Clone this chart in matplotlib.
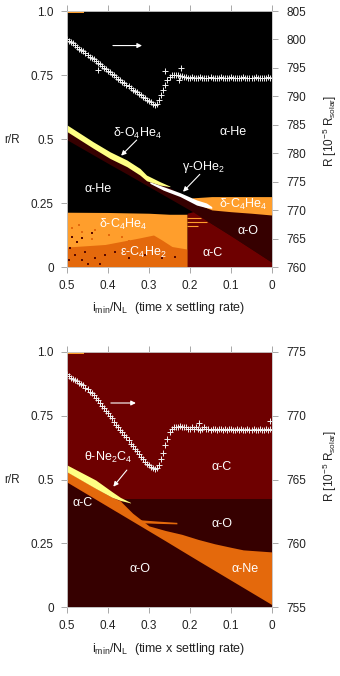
import numpy as np
import matplotlib.pyplot as plt

plt.rcParams['font.family'] = ['Liberation Sans', 'DejaVu Sans']
plt.rcParams['mathtext.default'] = 'regular'

# phase colours
C_HE = '#000000'   # alpha-He
C_O = '#360000'    # alpha-O
C_C = '#6e0000'    # alpha-C
C_D = '#ff9e2c'    # delta-C4He4
C_E = '#e4690c'    # eps-C4He2 / alpha-Ne
C_Y = '#ffff84'    # delta-O4He4 / theta-Ne2C4
C_W = '#ffffff'    # gamma-OHe2

# ---------------- panel 1 boundaries (x = i_min/N_L, r = r/R) ----------------
grid1 = [0.5, 0.45, 0.40, 0.35, 0.30, 0.25, 0.20, 0.15, 0.10, 0.05, 0.0]
low_edge1 = [0.497, 0.451, 0.405, 0.36, 0.314, 0.268, 0.222, 0.172, 0.122, 0.07, 0.018]
ao_top1 = [0.54, 0.49, 0.44, 0.40, 0.34, 0.31, 0.265, 0.24, 0.225, 0.22, 0.215]

yel_x1 = [0.5, 0.436, 0.395, 0.354, 0.322, 0.306, 0.273, 0.249]
yel_top1 = [0.555, 0.489, 0.45, 0.418, 0.385, 0.359, 0.333, 0.316]
yel_bot1 = [0.529, 0.464, 0.424, 0.392, 0.359, 0.337, 0.32, 0.314]

wht_x1 = [0.298, 0.265, 0.224, 0.184, 0.16, 0.147]
wht_top1 = [0.333, 0.314, 0.29, 0.262, 0.25, 0.236]
wht_bot1 = [0.327, 0.30, 0.275, 0.242, 0.232, 0.229]

dup_x1 = [0.195, 0.147, 0.10, 0.05, 0.0]
dup_top1 = [0.27, 0.275, 0.275, 0.275, 0.275]
dup_bot1 = [0.255, 0.223, 0.216, 0.21, 0.203]

dlo_x1 = [0.5, 0.40, 0.30, 0.25, 0.207]
dlo_top1 = [0.214, 0.213, 0.21, 0.206, 0.206]

eps_x1 = [0.5, 0.407, 0.325, 0.289, 0.268, 0.244, 0.207]
eps_top1 = [0.078, 0.088, 0.113, 0.125, 0.105, 0.08, 0.07]

ac_x1 = [0.207, 0.193, 0.15, 0.10, 0.05, 0.0]
ac_top1 = [0.21, 0.216, 0.172, 0.122, 0.07, 0.018]

streak_r1 = [0.19, 0.176, 0.162]
streak_x0 = [0.207, 0.207, 0.207]
streak_x1 = [0.172, 0.158, 0.18]

dark_spot_x = [0.488, 0.476, 0.463, 0.439, 0.492, 0.480, 0.455, 0.431, 0.407,
               0.463, 0.496, 0.382, 0.350, 0.309, 0.268, 0.236, 0.45, 0.42]
dark_spot_r = [0.118, 0.099, 0.112, 0.132, 0.073, 0.047, 0.060, 0.034, 0.047,
               0.027, 0.027, 0.060, 0.034, 0.047, 0.034, 0.040, 0.012, 0.012]
eps_spot_x = [0.488, 0.463, 0.431, 0.398, 0.366, 0.471, 0.44, 0.35]
eps_spot_r = [0.151, 0.138, 0.144, 0.125, 0.118, 0.164, 0.11, 0.10]

# ---------------- panel 2 boundaries ----------------
grid2 = [0.5, 0.45, 0.40, 0.35, 0.30, 0.25, 0.20, 0.15, 0.10, 0.05, 0.0]
low_edge2 = [0.49, 0.442, 0.394, 0.346, 0.298, 0.25, 0.201, 0.153, 0.105, 0.057, 0.009]

ne_x2 = [0.5, 0.43, 0.39, 0.37, 0.34, 0.30, 0.26, 0.22, 0.18, 0.14, 0.10, 0.07, 0.0]
ne_top2 = [0.532, 0.466, 0.43, 0.416, 0.368, 0.318, 0.30, 0.285, 0.265, 0.248, 0.234, 0.224, 0.216]

yel_x2 = [0.5, 0.43, 0.39, 0.37, 0.345]
yel_top2 = [0.557, 0.498, 0.452, 0.43, 0.41]
yel_bot2 = [0.53, 0.465, 0.43, 0.418, 0.408]

fing_x2 = [0.33, 0.28, 0.232]
fing_bot2 = [0.331, 0.328, 0.326]
fing_top2 = [0.343, 0.337, 0.332]

ao_low_top2 = 0.374
ao_up_top2 = 0.424
ao_up_left2 = 0.366

# ---------------- stellar radius (right axis), every 0.005 in x ----------------
x_R = np.linspace(0.5, 0.0, 101)
R1 = [800.0, 799.8, 799.5, 799.3, 799.0, 798.6, 798.4, 798.2, 797.9, 797.6,
      797.3, 797.0, 796.7, 796.5, 796.2, 795.9, 795.6, 795.3, 795.0, 794.8,
      794.5, 794.2, 793.9, 793.7, 793.4, 793.1, 792.8, 792.6, 792.3, 792.0,
      791.8, 791.5, 791.2, 790.9, 790.7, 790.4, 790.2, 789.9, 789.7, 789.4,
      789.2, 789.0, 788.7, 788.4, 788.6, 789.4, 790.2, 791.1, 792.0, 792.8,
      793.4, 793.7, 793.8, 793.8, 793.7, 793.6, 793.5, 793.4, 793.4, 793.3,
      793.3, 793.4, 793.3, 793.2, 793.3, 793.4, 793.3, 793.3, 793.2, 793.3,
      793.4, 793.3, 793.2, 793.3, 793.3, 793.4, 793.3, 793.2, 793.3, 793.3,
      793.4, 793.3, 793.3, 793.2, 793.3, 793.3, 793.4, 793.3, 793.2, 793.3,
      793.3, 793.3, 793.4, 793.2, 793.3, 793.3, 793.2, 793.3, 793.4, 793.3, 793.3]
R1_extra_x = [0.425, 0.262, 0.223, 0.227]
R1_extra = [794.6, 794.5, 794.9, 792.8]

R2 = [773.3, 773.1, 773.0, 772.9, 772.8, 772.7, 772.6, 772.5, 772.4, 772.2,
      772.1, 771.9, 771.8, 771.6, 771.4, 771.2, 771.0, 770.8, 770.6, 770.4,
      770.2, 770.0, 769.8, 769.5, 769.3, 769.1, 768.9, 768.7, 768.5, 768.3,
      768.1, 767.8, 767.6, 767.4, 767.2, 767.0, 766.8, 766.6, 766.4, 766.2,
      766.1, 766.0, 765.9, 765.8, 765.9, 766.1, 766.6, 767.1, 767.7, 768.2,
      768.7, 769.0, 769.1, 769.1, 769.1, 769.2, 769.1, 769.1, 769.1, 769.0,
      769.0, 769.1, 769.0, 769.1, 769.0, 768.9, 769.0, 769.1, 769.0, 769.0,
      768.9, 769.0, 769.0, 768.9, 769.0, 769.0, 768.9, 769.0, 768.9, 769.0,
      769.0, 768.9, 768.9, 769.0, 768.9, 769.0, 768.9, 768.9, 769.0, 768.9,
      768.9, 769.0, 768.9, 768.9, 769.0, 768.9, 768.9, 769.0, 768.9, 769.0, 768.9]
R2_extra_x = [0.177, 0.005]
R2_extra = [769.4, 769.6]

xticks = [0.5, 0.4, 0.3, 0.2, 0.1, 0.0]
xticklabels = ['0.5', '0.4', '0.3', '0.2', '0.1', '0']
rticks = [0, 0.25, 0.5, 0.75, 1.0]
rticklabels = ['0', '0.25', '0.5', '0.75', '1.0']

W, H = 340, 676
fig = plt.figure(figsize=(W / 100, H / 100), dpi=100)

TICK_C = '#9a9a9a'
LAB_C = '#222222'
CROSS_C = '#f0f0f0'


def style(ax, axr, rlim, rstep):
    ax.set_xlim(0.5, 0)
    ax.set_ylim(0, 1)
    ax.set_xticks(xticks)
    ax.set_xticklabels(xticklabels)
    ax.set_yticks(rticks)
    ax.set_yticklabels(rticklabels)
    ax.tick_params(axis='both', direction='out', length=4.5, width=0.6, color=TICK_C,
                   labelsize=8.5, labelcolor=LAB_C, top=True, right=False)
    ax.tick_params(axis='x', pad=5)
    ax.tick_params(axis='y', pad=5)
    axr.set_ylim(*rlim)
    axr.set_yticks(np.arange(rlim[0], rlim[1] + 1, rstep))
    axr.tick_params(axis='y', direction='out', length=4.5, width=0.6, color=TICK_C,
                    labelsize=8.5, labelcolor=LAB_C, pad=6)
    for a in (ax, axr):
        for s in a.spines.values():
            s.set_color('#c8c8c8')
            s.set_linewidth(0.5)


def label(ax, txt, x, r):
    ax.text(x, r, txt, color='white', fontsize=9, ha='center', va='center')


def pointer(ax, tail, head):
    ax.annotate('', xy=head, xytext=tail,
                arrowprops=dict(arrowstyle='-|>', color='white', lw=0.8,
                                mutation_scale=7, shrinkA=0, shrinkB=0))


# ================= panel 1 =================
ax1 = fig.add_axes([67 / W, 1 - 267 / H, 205 / W, 256 / H])
ax1.set_facecolor(C_HE)
ax1.fill_between(grid1, low_edge1, ao_top1, color=C_O, lw=0)
ax1.fill_between(yel_x1, yel_bot1, yel_top1, color=C_Y, lw=0)
ax1.fill_between(dup_x1, dup_bot1, dup_top1, color=C_D, lw=0)
ax1.fill_between(wht_x1, wht_bot1, wht_top1, color=C_W, lw=0)
ax1.fill_between(dlo_x1, 0, dlo_top1, color=C_D, lw=0)
ax1.fill_between(eps_x1, 0, eps_top1, color=C_E, lw=0)
ax1.fill_between(ac_x1, 0, ac_top1, color=C_C, lw=0)
ax1.hlines(streak_r1, streak_x0, streak_x1, color=C_D, lw=0.8)
ax1.scatter(dark_spot_x, dark_spot_r, s=1.5, marker='s', color='#5a0a00', lw=0)
ax1.scatter(eps_spot_x, eps_spot_r, s=1.5, marker='s', color=C_E, lw=0)
ax1.fill_between([0.5, 0.458], 0.992, 1.0, color=C_D, lw=0)

ax1r = ax1.twinx()
style(ax1, ax1r, (760, 805), 5)
ax1r.plot(x_R, R1, ls='none', marker='+', ms=5, mew=0.7, color=CROSS_C)
ax1r.plot(R1_extra_x, R1_extra, ls='none', marker='+', ms=5, mew=0.7, color=CROSS_C)

pointer(ax1, (0.388, 0.865), (0.317, 0.865))
label(ax1, 'δ-O$_4$He$_4$', 0.327, 0.523)
pointer(ax1, (0.33, 0.496), (0.368, 0.435))
label(ax1, 'α-He', 0.095, 0.527)
label(ax1, 'γ-OHe$_2$', 0.168, 0.392)
pointer(ax1, (0.176, 0.362), (0.217, 0.294))
label(ax1, 'α-He', 0.424, 0.305)
label(ax1, 'δ-C$_4$He$_4$', 0.071, 0.246)
label(ax1, 'δ-C$_4$He$_4$', 0.363, 0.168)
label(ax1, 'α-O', 0.058, 0.142)
label(ax1, 'ε-C$_4$He$_2$', 0.315, 0.055)
label(ax1, 'α-C', 0.144, 0.056)

# ================= panel 2 =================
ax2 = fig.add_axes([67 / W, 1 - 607 / H, 205 / W, 255 / H])
ax2.set_facecolor(C_C)
ax2.fill_between([0.5, 0.0], 0, ao_low_top2, color=C_O, lw=0)
ax2.fill_between([ao_up_left2, 0.0], 0, ao_up_top2, color=C_O, lw=0)
ax2.fill_between(grid2, 0, low_edge2, color=C_O, lw=0)
ax2.fill_between(ne_x2, np.interp(ne_x2, grid2[::-1], low_edge2[::-1]), ne_top2, color=C_E, lw=0)
ax2.fill_between(fing_x2, fing_bot2, fing_top2, color=C_E, lw=0)
ax2.fill_between(yel_x2, yel_bot2, yel_top2, color=C_Y, lw=0)
ax2.fill_between([0.5, 0.458], 0.992, 1.0, color=C_D, lw=0)

ax2r = ax2.twinx()
style(ax2, ax2r, (755, 775), 5)
ax2r.plot(x_R, R2, ls='none', marker='+', ms=5, mew=0.7, color=CROSS_C)
ax2r.plot(R2_extra_x, R2_extra, ls='none', marker='+', ms=5, mew=0.7, color=CROSS_C)

pointer(ax2, (0.393, 0.80), (0.332, 0.80))
label(ax2, 'θ-Ne$_2$C$_4$', 0.399, 0.585)
pointer(ax2, (0.354, 0.537), (0.387, 0.472))
label(ax2, 'α-C', 0.124, 0.55)
label(ax2, 'α-C', 0.462, 0.409)
label(ax2, 'α-O', 0.123, 0.324)
label(ax2, 'α-O', 0.322, 0.148)
label(ax2, 'α-Ne', 0.066, 0.148)

# axis titles
xlab = 'i$_{min}$/N$_L$  (time x settling rate)'
rlab = 'R [10$^{-5}$ R$_{solar}$]'
for ymid, ybot, ylabel_mid in [(140, 308, 131), (480, 649, 466)]:
    fig.text(12 / W, 1 - ymid / H, 'r/R', fontsize=8.5, color=LAB_C, ha='center', va='center')
    fig.text(169 / W, 1 - ybot / H, xlab, fontsize=9, color=LAB_C, ha='center', va='center')
    fig.text(330 / W, 1 - ylabel_mid / H, rlab, fontsize=8.5, color=LAB_C,
             ha='center', va='center', rotation=90)

fig.savefig('out.png', dpi=100)
